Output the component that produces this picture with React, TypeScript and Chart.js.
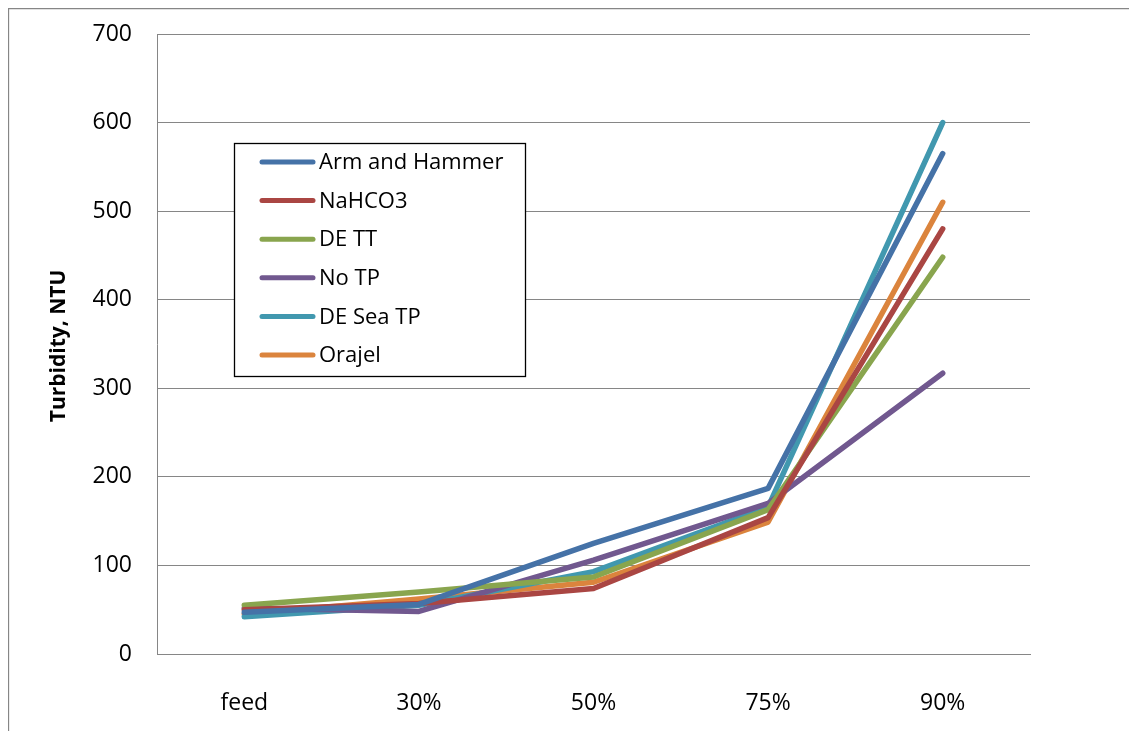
import React, { useEffect, useRef } from "react";
import { Chart, registerables } from "chart.js";

Chart.register(...registerables);

const categories = ["feed", "30%", "50%", "75%", "90%"];
const seriesNames = ["Arm and Hammer", "NaHCO3", "DE TT", "No TP", "DE Sea TP", "Orajel"];
const armAndHammer = [47, 56, 125, 187, 565];
const naHCO3 = [50, 57, 74, 154, 480];
const deTT = [55, 70, 87, 163, 448];
const noTP = [52, 48, 106, 170, 317];
const deSeaTP = [42, 55, 93, 166, 600];
const orajel = [45, 62, 81, 149, 510];
const seriesColors = ["#4572A7", "#AA4643", "#89A54E", "#71588F", "#4198AF", "#DB843D"];
const yTicks = [0, 100, 200, 300, 400, 500, 600, 700];
const yTitle = "Turbidity, NTU";

const FONT = "'Open Sans', 'DejaVu Sans', sans-serif";
const GRID = "#868686";

const framePlugin = {
  id: "frame",
  beforeDraw(chart: any) {
    const ctx = chart.ctx;
    ctx.save();
    ctx.fillStyle = "#ffffff";
    ctx.fillRect(0, 0, chart.width, chart.height);
    ctx.strokeStyle = GRID;
    ctx.lineWidth = 1.3;
    ctx.beginPath();
    ctx.moveTo(0.5, chart.height);
    ctx.lineTo(0.5, 0.5);
    ctx.lineTo(chart.width, 0.5);
    ctx.stroke();
    ctx.restore();
  },
  afterDraw(chart: any) {
    const ctx = chart.ctx;
    const area = chart.chartArea;
    ctx.save();
    ctx.translate(51, (area.top + area.bottom) / 2 + 2);
    ctx.rotate(-Math.PI / 2);
    ctx.fillStyle = "#000";
    ctx.font = `bold 21px ${FONT}`;
    ctx.textAlign = "center";
    ctx.textBaseline = "middle";
    ctx.fillText(yTitle, 0, 0);
    ctx.restore();
  },
};

const legendPlugin = {
  id: "boxLegend",
  afterDatasetsDraw(chart: any) {
    const ctx = chart.ctx;
    const bx = 226.5, by = 135.5, bw = 291, bh = 233;
    ctx.save();
    ctx.fillStyle = "#ffffff";
    ctx.fillRect(bx, by, bw, bh);
    ctx.strokeStyle = "#000000";
    ctx.lineWidth = 1.3;
    ctx.strokeRect(bx, by, bw, bh);
    ctx.font = `22px ${FONT}`;
    ctx.textAlign = "left";
    ctx.textBaseline = "middle";
    chart.data.datasets.forEach((ds: any, i: number) => {
      const y = 154 + i * 38.6;
      ctx.strokeStyle = ds.borderColor;
      ctx.lineWidth = 5;
      ctx.lineCap = "round";
      ctx.beginPath();
      ctx.moveTo(254, y);
      ctx.lineTo(305, y);
      ctx.stroke();
      ctx.fillStyle = "#000";
      ctx.fillText(ds.label, 311, y + 1);
    });
    ctx.restore();
  },
};

export default function App() {
  const ref = useRef<HTMLCanvasElement | null>(null);
  useEffect(() => {
    if (!ref.current) return;
    const values = [armAndHammer, naHCO3, deTT, noTP, deSeaTP, orajel];
    const chart = new Chart(ref.current, {
      type: "line",
      data: {
        labels: categories,
        datasets: values.map((v, i) => ({
          label: seriesNames[i],
          data: v,
          borderColor: seriesColors[i],
          backgroundColor: seriesColors[i],
          borderWidth: 5.5,
          pointRadius: 0,
          pointHoverRadius: 0,
          tension: 0,
          fill: false,
          borderCapStyle: "round",
          borderJoinStyle: "round",
        })),
      },
      options: {
        responsive: false,
        animation: false,
        devicePixelRatio: 1,
        layout: { padding: { top: 26, right: 99, left: 0, bottom: 0 } },
        plugins: { legend: { display: false }, tooltip: { enabled: false } },
        scales: {
          x: {
            offset: true,
            grid: { display: false },
            border: { display: true, color: GRID, width: 1 },
            ticks: { color: "#000", font: { family: FONT, size: 23 }, padding: 28, maxRotation: 0 },
            afterFit: (s: any) => { s.height = 77; s.paddingLeft = 0; s.paddingRight = 0; },
          },
          y: {
            min: 0,
            max: 700,
            afterBuildTicks: (s: any) => { s.ticks = yTicks.map((v) => ({ value: v })); },
            grid: { color: GRID, lineWidth: 1, drawTicks: false },
            border: { display: true, color: GRID, width: 1 },
            ticks: { color: "#000", font: { family: FONT, size: 23 }, padding: 25 },
            afterFit: (s: any) => { s.width = 149; s.paddingTop = 0; s.paddingBottom = 0; },
          },
        },
      },
      plugins: [framePlugin, legendPlugin],
    } as any);
    return () => chart.destroy();
  }, []);
  return (
    <div style={{ width: 1121, height: 723 }}>
      <canvas ref={ref} width={1121} height={723} style={{ display: "block" }} />
    </div>
  );
}
